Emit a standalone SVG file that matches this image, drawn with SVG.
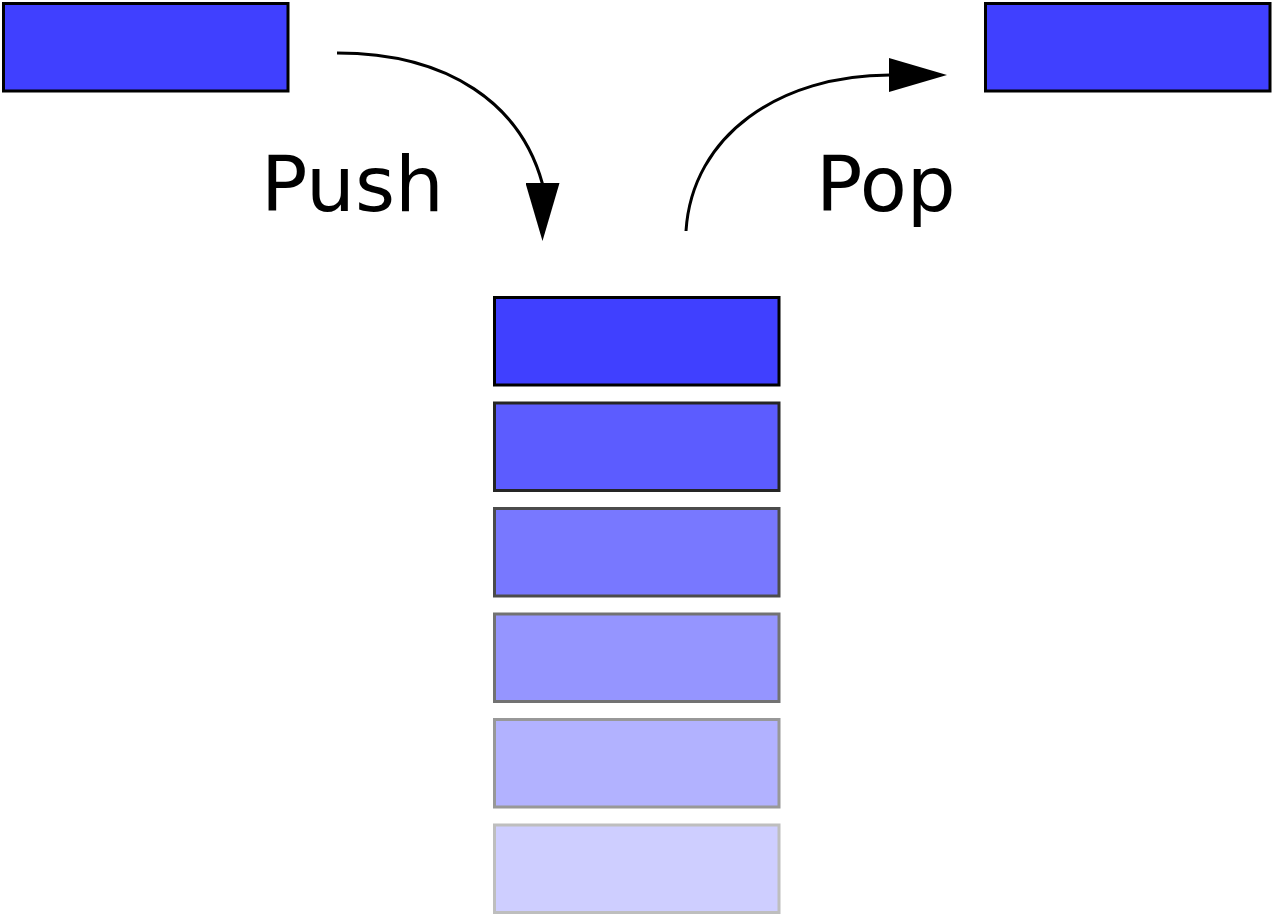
<svg xmlns="http://www.w3.org/2000/svg" width="1272" height="915" viewBox="0 0 1272 915">
  <style>
    .box { fill: #4040ff; stroke: #000; stroke-width: 3; }
    .lbl { font-family: "DejaVu Sans", "Liberation Sans", sans-serif; font-size: 77px; fill: #000; }
    .conn { fill: none; stroke: #000; stroke-width: 3; }
  </style>
  <defs>
    <marker id="arrow-down" viewBox="0 0 58 34" refX="1" refY="17" markerWidth="58" markerHeight="34" markerUnits="userSpaceOnUse" orient="90">
      <path d="M0,0 L58,17 L0,34 Z" fill="#000"/>
    </marker>
    <marker id="arrow-right" viewBox="0 0 58 34" refX="1" refY="17" markerWidth="58" markerHeight="34" markerUnits="userSpaceOnUse" orient="0">
      <path d="M0,0 L58,17 L0,34 Z" fill="#000"/>
    </marker>
  </defs>
  <rect width="1272" height="915" fill="#fff"/>
  <g id="pushed-item"><rect class="box" x="3.5" y="3.5" width="284.5" height="87.5"/></g>
  <g id="popped-item"><rect class="box" x="985.5" y="3.5" width="284.5" height="87.5"/></g>
  <g id="stack">
    <g id="stack-1" opacity="1"><rect class="box" x="494.5" y="297.5" width="284.5" height="87.5"/></g>
    <g id="stack-2" opacity="0.85"><rect class="box" x="494.5" y="403" width="284.5" height="87.5"/></g>
    <g id="stack-3" opacity="0.7"><rect class="box" x="494.5" y="508.5" width="284.5" height="87.5"/></g>
    <g id="stack-4" opacity="0.55"><rect class="box" x="494.5" y="614" width="284.5" height="87.5"/></g>
    <g id="stack-5" opacity="0.4"><rect class="box" x="494.5" y="719.5" width="284.5" height="87.5"/></g>
    <g id="stack-6" opacity="0.25"><rect class="box" x="494.5" y="825" width="284.5" height="87.5"/></g>
  </g>
  <g id="connectors">
    <path class="conn" d="M337,53 C450,53 521,105 542.5,184" marker-end="url(#arrow-down)"/>
    <path class="conn" d="M686,231 C692,135 780,75 890,75" marker-end="url(#arrow-right)"/>
  </g>
  <g id="labels">
    <text class="lbl" x="261" y="211">Push</text>
    <text class="lbl" x="816" y="211">Pop</text>
  </g>
</svg>
